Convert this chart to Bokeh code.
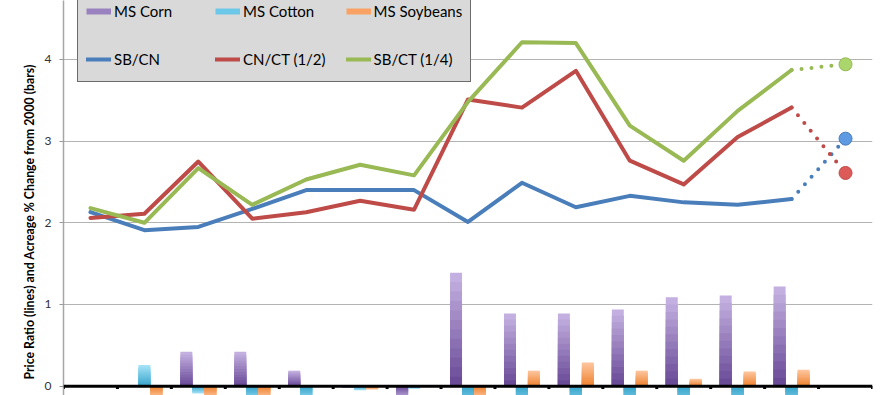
from bokeh.plotting import figure
from bokeh.models import (FactorRange, Range1d, Span, Title, Legend, LegendItem,
                          FixedTicker, ColumnDataSource)
from bokeh.transform import dodge
from bokeh.embed import file_html
from bokeh.resources import INLINE

# ---------------- data ----------------
years = [str(y) for y in range(2000, 2015)]

ms_corn = [0.0, 0.01, 0.42, 0.42, 0.19, -0.02, -0.15, 1.39, 0.89, 0.89, 0.94, 1.09, 1.11, 1.22, float("nan")]
ms_cotton = [0.0, 0.26, -0.09, -0.20, -0.20, -0.05, -0.03, -0.30, -0.30, -0.30, -0.30, -0.30, -0.30, -0.30, float("nan")]
ms_soy = [0.0, -0.15, -0.15, -0.15, -0.01, -0.04, -0.01, -0.15, 0.19, 0.29, 0.19, 0.09, 0.18, 0.20, float("nan")]

sb_cn = [2.13, 1.91, 1.95, 2.17, 2.40, 2.40, 2.40, 2.01, 2.49, 2.19, 2.33, 2.25, 2.22, 2.29, 3.03]
cn_ct = [2.06, 2.11, 2.75, 2.05, 2.13, 2.27, 2.16, 3.51, 3.41, 3.86, 2.76, 2.47, 3.05, 3.41, 2.61]
sb_ct = [2.18, 2.00, 2.67, 2.22, 2.53, 2.71, 2.58, 3.48, 4.21, 4.20, 3.19, 2.76, 3.37, 3.87, 3.94]

y_ticks = [0, 1, 2, 3, 4]
n_solid = 14  # last observed point index + 1; final point is the dotted projection

FONT = "Lato"

# ---------------- figure ----------------
p = figure(width=890, height=395, x_range=FactorRange(*years),
           y_range=Range1d(-0.114, 4.721),
           output_backend="svg", toolbar_location=None,
           min_border_left=63, min_border_right=18,
           min_border_top=0, min_border_bottom=0)
p.outline_line_color = None
p.background_fill_color = "white"
p.border_fill_color = "white"

p.xaxis.visible = False
p.xgrid.grid_line_color = None
p.ygrid.grid_line_color = "#b3b3b3"
p.ygrid.grid_line_width = 1
p.yaxis.ticker = FixedTicker(ticks=y_ticks)
p.yaxis.minor_tick_line_color = None
p.yaxis.major_tick_in = 0
p.yaxis.major_tick_out = 4
p.yaxis.major_tick_line_color = "#999999"
p.yaxis.axis_line_color = "#a6a6a6"
p.yaxis.axis_line_width = 1.5
p.yaxis.major_label_standoff = 8
p.yaxis.major_label_text_font = FONT
p.yaxis.major_label_text_font_size = "12px"
p.yaxis.major_label_text_color = "#333333"


# ---------------- bars (layered to mimic gradient) ----------------
def hex2rgb(h):
    h = h.lstrip("#")
    return tuple(int(h[i:i + 2], 16) for i in (0, 2, 4))


def mix(c1, c2, t):
    a, b = hex2rgb(c1), hex2rgb(c2)
    return "#%02x%02x%02x" % tuple(round(a[i] + (b[i] - a[i]) * t) for i in range(3))


bar_w = 0.222
series = [
    (ms_corn, -bar_w, "#c3b0e0", "#6a4b98"),
    (ms_cotton, 0.0, "#a3e2f7", "#3aa6cc"),
    (ms_soy, bar_w, "#fdc49b", "#ef8433"),
]
NL = 12
for vals, off, light, dark in series:
    for k in range(NL):
        frac = 1 - k / NL
        src = ColumnDataSource(dict(x=years, top=[v * frac for v in vals]))
        p.vbar(x=dodge("x", off, range=p.x_range), top="top", bottom=0, width=bar_w,
               source=src, fill_color=mix(light, dark, k / (NL - 1)), line_color=None)

# x axis line at zero, with small ticks at category boundaries
p.add_layout(Span(location=0, dimension="width", line_color="black", line_width=3))
tick_src = ColumnDataSource(dict(x=years))
p.segment(x0=dodge("x", -0.5, range=p.x_range), y0=0,
          x1=dodge("x", -0.5, range=p.x_range), y1=-0.035,
          source=tick_src, line_color="black", line_width=3)
p.segment(x0=dodge("x", 0.5, range=p.x_range), y0=0,
          x1=dodge("x", 0.5, range=p.x_range), y1=-0.035,
          source=ColumnDataSource(dict(x=years[-1:])), line_color="black", line_width=3)

# ---------------- lines ----------------
line_specs = [
    (sb_cn, "#4a7ebb", "#5d9ae2"),
    (cn_ct, "#be4b48", "#dc5a58"),
    (sb_ct, "#98b954", "#aad66c"),
]
line_renderers = []
for vals, col, mcol in line_specs:
    r = p.line(x=years[:n_solid], y=vals[:n_solid], line_color=col, line_width=4,
               line_join="round", line_cap="round")
    line_renderers.append(r)
    p.line(x=years[n_solid - 1:], y=vals[n_solid - 1:], line_color=col, line_width=4,
           line_dash="0 10", line_cap="round")
    p.scatter(x=years[-1:], y=vals[-1:], size=13, marker="circle",
              fill_color=mcol, line_color=col, line_width=1)

# ---------------- legend ----------------
# single-point lines draw nothing on the plot; they only provide legend swatches
r_corn = p.line(x=years[:1], y=ms_corn[:1], line_color="#9a82c0", line_width=6)
r_cot = p.line(x=years[:1], y=ms_cotton[:1], line_color="#6cc8e8", line_width=6)
r_soy = p.line(x=years[:1], y=ms_soy[:1], line_color="#f9a263", line_width=6)

legend = Legend(items=[
    LegendItem(label="MS Corn", renderers=[r_corn]),
    LegendItem(label="MS Cotton", renderers=[r_cot]),
    LegendItem(label="MS Soybeans", renderers=[r_soy]),
    LegendItem(label="SB/CN", renderers=[line_renderers[0]]),
    LegendItem(label="CN/CT (1/2)", renderers=[line_renderers[1]]),
    LegendItem(label="SB/CT (1/4)", renderers=[line_renderers[2]]),
], location=(14, 313), orientation="horizontal", ncols=3,
    glyph_width=25, glyph_height=28, label_height=28, label_width=81,
    label_standoff=3, spacing=20, padding=8, margin=0,
    background_fill_color="#d9d9d9", background_fill_alpha=1,
    border_line_color="black", border_line_width=1.5,
    label_text_font=FONT, label_text_font_size="15px", label_text_color="black")
p.add_layout(legend)

# ---------------- y axis title ----------------
p.add_layout(Title(text="Price Ratio (lines) and Acreage % Change from 2000 (bars)",
                   align="left", offset=16, text_font=FONT, text_font_style="bold",
                   text_font_size="12.3px", text_color="black"), "left")

open("out.html", "w").write(file_html(p, INLINE))
